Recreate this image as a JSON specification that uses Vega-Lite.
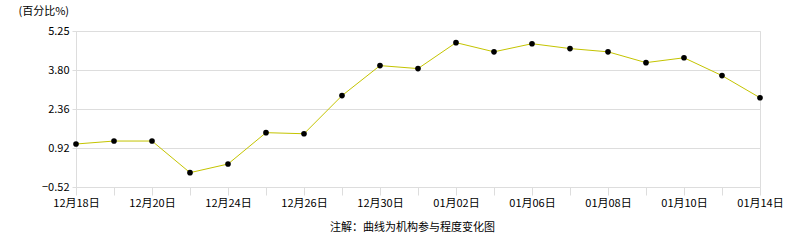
{
  "$schema": "https://vega.github.io/schema/vega-lite/v6.json",
  "width": 684,
  "height": 156,
  "autosize": "none",
  "padding": {"left": 76, "top": 31, "right": 26, "bottom": 53},
  "background": "white",
  "config": {
    "view": {"stroke": "#dddddd", "strokeWidth": 1},
    "font": "Noto Sans CJK SC"
  },
  "data": {
    "values": [
      {"date": "12月18日", "v": 1.07},
      {"date": "12月19日", "v": 1.18},
      {"date": "12月20日", "v": 1.18},
      {"date": "12月23日", "v": 0.01},
      {"date": "12月24日", "v": 0.33},
      {"date": "12月25日", "v": 1.49},
      {"date": "12月26日", "v": 1.45},
      {"date": "12月27日", "v": 2.86},
      {"date": "12月30日", "v": 3.97},
      {"date": "12月31日", "v": 3.86},
      {"date": "01月02日", "v": 4.82},
      {"date": "01月03日", "v": 4.48},
      {"date": "01月06日", "v": 4.78},
      {"date": "01月07日", "v": 4.60},
      {"date": "01月08日", "v": 4.48},
      {"date": "01月09日", "v": 4.08},
      {"date": "01月10日", "v": 4.26},
      {"date": "01月13日", "v": 3.60},
      {"date": "01月14日", "v": 2.78}
    ]
  },
  "encoding": {
    "x": {
      "field": "date",
      "type": "ordinal",
      "sort": null,
      "scale": {"type": "point", "padding": 0},
      "axis": {
        "title": "注解：曲线为机构参与程度变化图",
        "titleFontSize": 11,
        "titleFontWeight": "normal",
        "titleColor": "#000000",
        "titleX": 336,
        "titleY": 40,
        "titleAlign": "center",
        "titleBaseline": "middle",
        "domain": false,
        "ticks": true,
        "tickColor": "#dddddd",
        "tickSize": 8,
        "labelAngle": 0,
        "labelFontSize": 11,
        "labelColor": "#000000",
        "labelPadding": 2,
        "labelOverlap": false,
        "labelExpr": "indexof(['12月18日','12月20日','12月24日','12月26日','12月30日','01月02日','01月06日','01月08日','01月10日','01月14日'], datum.value) >= 0 ? datum.value : ''"
      }
    },
    "y": {
      "field": "v",
      "type": "quantitative",
      "scale": {"domain": [-0.52, 5.25], "nice": false, "zero": false},
      "axis": {
        "values": [-0.52, 0.92, 2.36, 3.80, 5.25],
        "format": ".2f",
        "title": "(百分比%)",
        "titleAngle": 0,
        "titleX": -58,
        "titleY": -20,
        "titleAlign": "left",
        "titleBaseline": "middle",
        "titleFontSize": 11,
        "titleFontWeight": "normal",
        "titleColor": "#000000",
        "grid": true,
        "gridColor": "#dddddd",
        "domainColor": "#dddddd",
        "tickColor": "#dddddd",
        "tickSize": 4,
        "labelFontSize": 11,
        "labelColor": "#000000",
        "labelPadding": 3
      }
    }
  },
  "layer": [
    {"mark": {"type": "line", "color": "#c4c400", "strokeWidth": 1}},
    {"mark": {"type": "point", "filled": true, "color": "#000000", "opacity": 1, "size": 32}}
  ]
}
